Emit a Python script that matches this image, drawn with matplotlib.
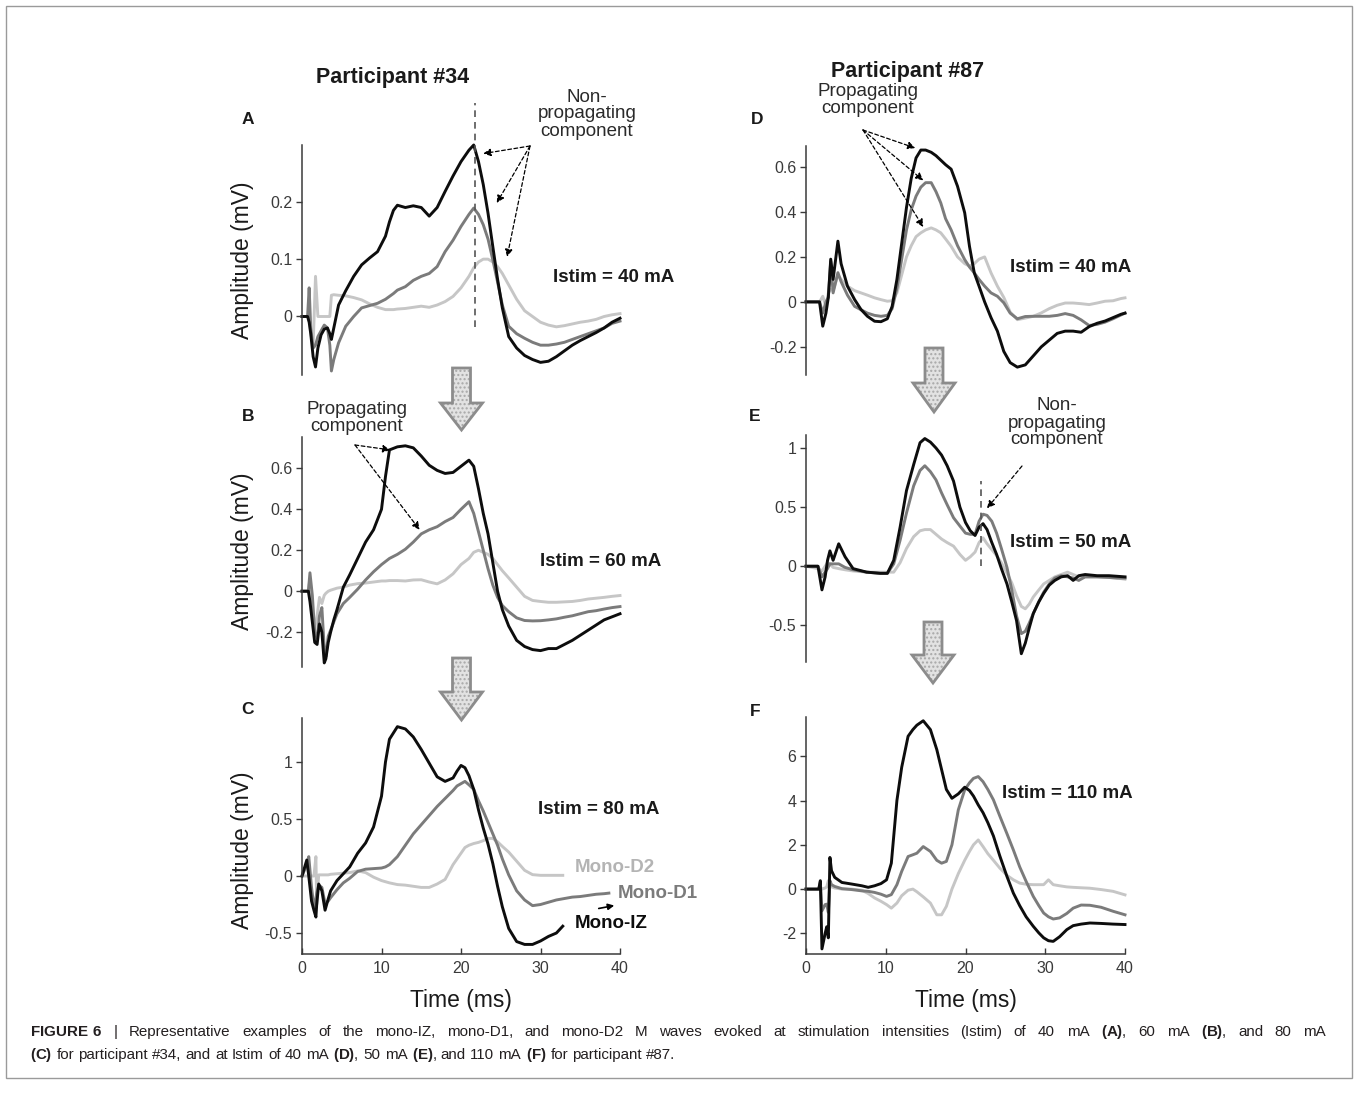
import numpy as np
import matplotlib
matplotlib.use('Agg')
import matplotlib.pyplot as plt
from matplotlib.patches import Polygon, Rectangle

plt.rcParams['font.family'] = ['Liberation Sans', 'DejaVu Sans']
plt.rcParams['mathtext.fontset'] = 'custom'
plt.rcParams['mathtext.rm'] = 'Liberation Sans'
plt.rcParams['mathtext.bf'] = 'Liberation Sans:bold'

nan = np.nan

# ---------------- data: time (ms) and amplitude (mV) ----------------
# Participant #34, Istim = 40 mA (A)
t_a = [0, 0.7, 0.9, 1.1, 1.4, 1.7, 2.0, 2.4, 2.8, 3.2, 3.5, 3.7, 4.0, 4.6, 5.5, 6.5, 7.5, 8.5, 9.5, 10.5,
       11, 11.5, 12, 13, 14, 15, 16, 17, 18, 19, 20, 21, 21.6, 22.2, 22.8, 23.4, 24, 24.6, 25.2, 26,
       27, 28, 29, 30, 31, 32, 33, 34, 35, 36, 37, 38, 39, 40]
a_iz = [0, 0, -0.01, -0.03, -0.07, -0.088, -0.055, -0.032, -0.022, -0.02,
        -0.03, -0.04, -0.02, 0.02, 0.045, 0.07, 0.09, 0.102, 0.113, 0.14,
        0.165, 0.185, 0.194, 0.19, 0.193, 0.19, 0.175, 0.19, 0.218, 0.245,
        0.27, 0.29, 0.299, 0.27, 0.23, 0.18, 0.122, 0.065, 0.015, -0.035,
        -0.055, -0.068, -0.075, -0.08, -0.078, -0.07, -0.06, -0.05, -0.042, -0.035,
        -0.028, -0.02, -0.01, -0.003]
a_d1 = [0, 0, 0.05, -0.02, -0.055, -0.05, -0.035, -0.025, -0.015, -0.02,
        -0.05, -0.095, -0.075, -0.046, -0.017, 0.0, 0.015, 0.019, 0.023, 0.03,
        0.035, 0.04, 0.046, 0.052, 0.063, 0.07, 0.075, 0.087, 0.113, 0.133,
        0.157, 0.178, 0.189, 0.178, 0.16, 0.135, 0.099, 0.06, 0.02, -0.017,
        -0.03, -0.038, -0.045, -0.05, -0.05, -0.048, -0.045, -0.04, -0.035, -0.03,
        -0.025, -0.02, -0.012, -0.008]
a_d2 = [0, 0, 0.0, -0.03, -0.05, 0.07, 0.0, 0.0, 0.0, 0.0,
        0.0, 0.037, 0.038, 0.037, 0.036, 0.033, 0.029, 0.022, 0.016, 0.012,
        0.012, 0.012, 0.013, 0.014, 0.016, 0.018, 0.016, 0.02, 0.026, 0.035,
        0.05, 0.07, 0.085, 0.095, 0.1, 0.1, 0.095, 0.087, 0.075, 0.055,
        0.03, 0.01, 0.0, -0.01, -0.015, -0.018, -0.016, -0.013, -0.01, -0.008,
        -0.005, 0.0, 0.003, 0.005]

# Participant #34, Istim = 60 mA (B)
t_b = [0, 0.8, 1.0, 1.3, 1.6, 1.9, 2.2, 2.5, 2.8, 3.0, 3.3, 3.6, 4.0, 4.4, 5.2, 6.0, 7.0, 8.0, 9.0, 10.0,
       10.5, 11.0, 12.0, 13.0, 14.0, 15.0, 16.0, 17.0, 18.0, 19.0, 20.0, 21.0, 21.6, 22.2, 22.8, 23.4,
       24.0, 24.6, 25.2, 26.0, 27.0, 28.0, 29.0, 30.0, 31.0, 32.0, 33.0, 34.0, 35.0, 36.0, 37.0, 38.0,
       39.0, 40.0]
b_iz = [0, 0, -0.05, -0.15, -0.25, -0.26, -0.16, -0.2, -0.35, -0.33,
        -0.25, -0.2, -0.14, -0.09, 0.02, 0.08, 0.16, 0.24, 0.30, 0.40,
        0.56, 0.69, 0.705, 0.71, 0.70, 0.66, 0.615, 0.59, 0.575, 0.58,
        0.61, 0.64, 0.61, 0.50, 0.38, 0.28, 0.14, 0.0, -0.09, -0.17,
        -0.24, -0.27, -0.285, -0.29, -0.28, -0.28, -0.26, -0.24, -0.215, -0.19,
        -0.165, -0.14, -0.125, -0.11]
b_d1 = [0, 0, 0.09, -0.02, -0.2, -0.23, -0.12, -0.08, -0.28, -0.32,
        -0.22, -0.19, -0.15, -0.11, -0.06, -0.03, 0.01, 0.055, 0.095, 0.13,
        0.145, 0.16, 0.18, 0.205, 0.24, 0.28, 0.30, 0.315, 0.34, 0.36,
        0.40, 0.437, 0.38, 0.29, 0.20, 0.11, 0.03, -0.03, -0.07, -0.10,
        -0.13, -0.143, -0.145, -0.144, -0.14, -0.135, -0.127, -0.12, -0.11, -0.10,
        -0.095, -0.087, -0.08, -0.075]
b_d2 = [0, 0, 0.06, -0.10, -0.18, -0.12, -0.03, -0.06, -0.02, -0.01,
        0.0, 0.005, 0.01, 0.015, 0.02, 0.03, 0.037, 0.04, 0.045, 0.05,
        0.05, 0.052, 0.052, 0.05, 0.055, 0.056, 0.045, 0.036, 0.055, 0.085,
        0.13, 0.16, 0.19, 0.20, 0.19, 0.18, 0.16, 0.13, 0.10, 0.065,
        0.02, -0.025, -0.045, -0.05, -0.054, -0.054, -0.052, -0.05, -0.045, -0.038,
        -0.034, -0.03, -0.025, -0.021]

# Participant #34, Istim = 80 mA (C)
t_c = [0, 0.6, 0.85, 1.2, 1.5, 1.75, 1.85, 2.1, 2.5, 2.9, 3.3, 3.6, 4.4, 5.2, 6.0, 7.0, 8.0, 9.0, 10.0,
       10.5, 11.0, 12.0, 13.0, 14.0, 15.0, 16.0, 17.0, 18.0, 19.0, 19.5, 20.0, 20.5, 21.0, 21.6, 22.2,
       22.8, 23.4, 24.0, 24.6, 25.2, 26.0, 27.0, 28.0, 29.0, 30.0, 31.0, 32.0, 32.8, 34.0, 35.0, 36.0,
       37.0, 38.0, 38.6]
c_iz = [0, 0.14, 0.0, -0.22, -0.30, -0.36, -0.25, -0.07, -0.13, -0.30,
        -0.20, -0.13, -0.04, 0.02, 0.08, 0.20, 0.29, 0.43, 0.70, 1.0,
        1.2, 1.31, 1.29, 1.22, 1.11, 0.99, 0.87, 0.83, 0.86, 0.92,
        0.97, 0.95, 0.88, 0.76, 0.58, 0.42, 0.28, 0.11, -0.09, -0.27,
        -0.46, -0.575, -0.60, -0.60, -0.57, -0.53, -0.50, -0.44, nan, nan,
        nan, nan, nan, nan]
c_d1 = [0, 0.10, 0.17, -0.10, -0.27, -0.20, -0.15, -0.08, -0.10, -0.24,
        -0.22, -0.19, -0.12, -0.06, -0.02, 0.04, 0.06, 0.065, 0.07, 0.08,
        0.10, 0.17, 0.27, 0.37, 0.45, 0.53, 0.61, 0.68, 0.75, 0.79,
        0.81, 0.83, 0.80, 0.76, 0.66, 0.57, 0.47, 0.37, 0.27, 0.15,
        0.01, -0.13, -0.21, -0.26, -0.25, -0.23, -0.21, -0.20, -0.185, -0.18,
        -0.17, -0.16, -0.155, -0.15]
c_d2 = [0, 0.0, 0.0, 0.0, 0.0, 0.17, -0.25, 0.01, 0.01, 0.01,
        0.01, 0.015, 0.02, 0.025, 0.03, 0.045, 0.03, -0.01, -0.04, -0.05,
        -0.06, -0.075, -0.08, -0.09, -0.10, -0.10, -0.07, -0.03, 0.10, 0.15,
        0.20, 0.25, 0.27, 0.285, 0.295, 0.31, 0.33, 0.33, 0.30, 0.26,
        0.21, 0.13, 0.05, 0.012, 0.006, 0.006, 0.006, 0.006, nan, nan,
        nan, nan, nan, nan]

# Participant #87, Istim = 40 mA (D)
t_d = [0, 1.7, 2.1, 2.5, 2.8, 3.1, 3.4, 4.0, 4.4, 5.2, 6.1, 6.9, 7.7, 8.6, 9.4, 10.2, 10.8, 11.4, 12.0,
       12.6, 13.2, 13.8, 14.4, 15.0, 15.7, 16.3, 16.9, 17.5, 18.2, 19.0, 19.9, 20.5, 21.1, 21.7, 22.4,
       23.2, 24.0, 24.8, 25.6, 26.5, 27.5, 28.5, 29.5, 30.5, 31.5, 32.5, 33.5, 34.5, 35.5, 36.5, 37.5,
       38.5, 39.5, 40]
d_iz = [0, 0, -0.108, -0.05, 0.02, 0.19, 0.10, 0.27, 0.17, 0.07,
        0.01, -0.034, -0.064, -0.086, -0.088, -0.075, -0.02, 0.10, 0.26, 0.42,
        0.55, 0.64, 0.675, 0.675, 0.665, 0.65, 0.63, 0.61, 0.59, 0.514,
        0.396, 0.247, 0.129, 0.07, 0.0, -0.07, -0.13, -0.22, -0.27, -0.29,
        -0.28, -0.24, -0.20, -0.17, -0.14, -0.13, -0.13, -0.135, -0.11, -0.095,
        -0.085, -0.07, -0.055, -0.05]
d_d1 = [0, 0, -0.05, 0.0, 0.02, 0.18, 0.04, 0.13, 0.09, 0.03,
        -0.02, -0.035, -0.05, -0.06, -0.064, -0.06, -0.03, 0.06, 0.19, 0.32,
        0.41, 0.47, 0.51, 0.53, 0.53, 0.49, 0.44, 0.37, 0.32, 0.25,
        0.188, 0.155, 0.129, 0.10, 0.07, 0.04, 0.025, -0.004, -0.05, -0.075,
        -0.065, -0.064, -0.064, -0.064, -0.06, -0.052, -0.06, -0.08, -0.105, -0.10,
        -0.09, -0.075, -0.058, -0.05]
d_d2 = [0, 0.0, 0.025, -0.02, 0.04, 0.055, 0.05, 0.12, 0.10, 0.07,
        0.05, 0.04, 0.03, 0.018, 0.01, 0.003, 0.005, 0.04, 0.12, 0.20,
        0.25, 0.29, 0.307, 0.32, 0.329, 0.32, 0.307, 0.28, 0.247, 0.20,
        0.17, 0.159, 0.17, 0.19, 0.20, 0.129, 0.07, 0.02, -0.045, -0.079,
        -0.072, -0.064, -0.049, -0.03, -0.015, -0.005, -0.005, -0.008, -0.012, -0.005,
        0.003, 0.005, 0.015, 0.018]

# Participant #87, Istim = 50 mA (E)
t_e = [0, 1.5, 2.0, 2.4, 2.7, 3.0, 3.4, 4.1, 4.9, 5.9, 7.6, 9.3, 10.2, 11.0, 11.8, 12.6, 13.5, 14.3,
       14.9, 15.6, 16.3, 17.0, 17.7, 18.5, 19.3, 20.0, 20.6, 21.2, 21.7, 22.2, 22.7, 23.3, 23.9, 24.5,
       25.2, 25.8, 26.4, 27.0, 27.5, 28.0, 28.5, 29.2, 29.8, 30.5, 31.2, 32.0, 32.8, 33.5, 34.2, 35.0,
       36.5, 38.0, 39.0, 40]
e_iz = [0, 0, -0.20, -0.09, 0.05, 0.13, 0.05, 0.19, 0.08, -0.02,
        -0.05, -0.06, -0.06, 0.05, 0.33, 0.64, 0.86, 1.045, 1.08, 1.05,
        1.0, 0.94, 0.85, 0.72, 0.50, 0.37, 0.30, 0.26, 0.33, 0.36,
        0.31, 0.20, 0.10, -0.02, -0.15, -0.30, -0.46, -0.74, -0.65, -0.52,
        -0.40, -0.30, -0.23, -0.16, -0.12, -0.09, -0.08, -0.12, -0.08, -0.07,
        -0.08, -0.08, -0.085, -0.09]
e_d1 = [0, 0, -0.09, -0.05, -0.02, 0.02, 0.02, 0.02, -0.01, -0.03,
        -0.05, -0.06, -0.06, 0.02, 0.22, 0.45, 0.68, 0.81, 0.85, 0.80,
        0.73, 0.62, 0.52, 0.41, 0.34, 0.28, 0.27, 0.27, 0.38, 0.44,
        0.43, 0.38, 0.28, 0.15, -0.01, -0.20, -0.42, -0.57, -0.55, -0.48,
        -0.40, -0.30, -0.22, -0.15, -0.10, -0.08, -0.09, -0.10, -0.12, -0.09,
        -0.09, -0.095, -0.10, -0.10]
e_d2 = [0, -0.02, -0.04, 0.0, 0.03, 0.02, -0.01, -0.02, -0.03, -0.04,
        -0.05, -0.05, -0.05, -0.05, 0.03, 0.15, 0.25, 0.30, 0.31, 0.31,
        0.27, 0.23, 0.20, 0.17, 0.10, 0.05, 0.08, 0.12, 0.20, 0.24,
        0.19, 0.14, 0.09, 0.03, -0.06, -0.14, -0.25, -0.34, -0.36, -0.32,
        -0.26, -0.20, -0.15, -0.12, -0.09, -0.07, -0.05, -0.07, -0.09, -0.09,
        -0.09, -0.095, -0.10, -0.11]

# Participant #87, Istim = 110 mA (F)
t_f = [0, 1.6, 1.8, 2.0, 2.4, 2.6, 2.8, 3.0, 3.2, 3.6, 4.5, 5.7, 7.0, 7.8, 8.6, 9.4, 10.1, 10.7, 11.4,
       12.0, 12.8, 13.4, 13.9, 14.7, 15.6, 16.4, 17.0, 17.6, 18.3, 19.1, 19.9, 20.5, 21.0, 21.6, 22.2,
       22.8, 23.5, 24.3, 25.2, 26.0, 26.8, 27.6, 28.5, 29.2, 29.8, 30.4, 31.0, 31.8, 32.7, 33.5, 34.5,
       35.6, 37.0, 38.5, 40]
f_iz = [0, 0.0, 0.38, -2.7, -2.0, -1.7, -2.2, 1.43, 0.83, 0.53,
        0.30, 0.23, 0.15, 0.08, 0.15, 0.25, 0.42, 1.17, 4.0, 5.5,
        6.9, 7.2, 7.4, 7.6, 7.2, 6.3, 5.4, 4.5, 4.1, 4.3,
        4.6, 4.45, 4.2, 3.8, 3.45, 3.0, 2.4, 1.5, 0.57, -0.18,
        -0.75, -1.25, -1.68, -1.98, -2.2, -2.33, -2.36, -2.15, -1.83, -1.65,
        -1.58, -1.53, -1.55, -1.58, -1.6]
f_d1 = [0, 0.0, 0.3, -0.98, -0.7, -0.68, -1.05, 0.38, 0.2, 0.12,
        0.02, -0.02, -0.08, -0.10, -0.15, -0.23, -0.33, -0.25, 0.2, 0.8,
        1.47, 1.55, 1.62, 1.92, 1.7, 1.3, 1.17, 1.25, 2.0, 3.58,
        4.48, 4.8, 5.0, 5.08, 4.85, 4.5, 4.03, 3.3, 2.5, 1.77,
        1.0, 0.35, -0.33, -0.75, -1.08, -1.25, -1.35, -1.3, -1.1, -0.86,
        -0.72, -0.73, -0.82, -1.0, -1.16]
f_d2 = [0, 0.0, 0.1, 0.0, 0.05, 0.1, 0.38, 0.2, 0.1, 0.05,
        0.0, 0.0, -0.05, -0.2, -0.4, -0.55, -0.7, -0.86, -0.63, -0.3,
        -0.05, 0.0, -0.12, -0.35, -0.63, -1.16, -1.16, -0.78, 0.0, 0.7,
        1.3, 1.7, 2.0, 2.22, 1.92, 1.6, 1.3, 0.95, 0.62, 0.42,
        0.27, 0.22, 0.2, 0.2, 0.2, 0.42, 0.2, 0.15, 0.1, 0.08,
        0.06, 0.04, -0.02, -0.1, -0.26]

x_ticks = [0, 10, 20, 30, 40]
istim = ['Istim = 40 mA', 'Istim = 60 mA', 'Istim = 80 mA',
         'Istim = 40 mA', 'Istim = 50 mA', 'Istim = 110 mA']
series_names = ['Mono-IZ', 'Mono-D1', 'Mono-D2']

# ---------------- styling ----------------
W, H = 1358, 1099
C_IZ, C_D1, C_D2 = '#0d0d0d', '#7b7b7b', '#c6c6c6'
LW = 2.1
TXT = '#1a1a1a'
TICK = '#3a3a3a'

fig = plt.figure(figsize=(W / 100, H / 100), dpi=100)


def fx(px):
    return px / W


def fy(py):
    return 1 - py / H


def panel(x0, x1, ytop, ybot):
    return fig.add_axes([fx(x0), fy(ybot), (x1 - x0) / W, (ybot - ytop) / H])


def style(ax, ylim, yticks, ylabels, xaxis):
    ax.set_xlim(0, 40)
    ax.set_ylim(*ylim)
    ax.patch.set_alpha(0)
    ax.spines['top'].set_visible(False)
    ax.spines['right'].set_visible(False)
    ax.spines['left'].set_color(TICK)
    ax.spines['left'].set_linewidth(1.1)
    ax.set_yticks(yticks)
    ax.set_yticklabels(ylabels)
    ax.tick_params(axis='y', direction='out', length=4, width=1, colors=TICK,
                   labelsize=11.5, pad=3)
    if xaxis:
        ax.spines['bottom'].set_color(TICK)
        ax.spines['bottom'].set_linewidth(1.1)
        ax.set_xticks(x_ticks)
        ax.set_xticklabels([str(v) for v in x_ticks])
        ax.tick_params(axis='x', direction='in', length=4, width=1, colors=TICK,
                       labelsize=11.5, pad=5)
    else:
        ax.spines['bottom'].set_visible(False)
        ax.set_xticks([])


def draw(ax, t, iz, d1, d2):
    ax.plot(t, d2, color=C_D2, lw=LW, clip_on=False, solid_joinstyle='round')
    ax.plot(t, d1, color=C_D1, lw=LW, clip_on=False, solid_joinstyle='round')
    ax.plot(t, iz, color=C_IZ, lw=LW, clip_on=False, solid_joinstyle='round')


def dashed_arrow(ax, xy, px, py):
    ax.annotate('', xy=xy, xycoords='data', xytext=(fx(px), fy(py)),
                textcoords='figure fraction', annotation_clip=False,
                arrowprops=dict(arrowstyle='-|>', color='black', lw=0.9,
                                linestyle=(0, (3, 2)), mutation_scale=11,
                                shrinkA=0, shrinkB=0))


def big_arrow(cx, y0, y1, y2):
    pts = [(cx - 9, y0), (cx + 9, y0), (cx + 9, y1), (cx + 21, y1), (cx, y2),
           (cx - 21, y1), (cx - 9, y1)]
    pts = [(fx(x), fy(y)) for x, y in pts]
    fig.patches.append(Polygon(pts, closed=True, transform=fig.transFigure,
                               facecolor='#e2e2e2', edgecolor='#a8a8a8',
                               hatch='....', lw=0))
    fig.patches.append(Polygon(pts, closed=True, transform=fig.transFigure,
                               fill=False, edgecolor='#8c8c8c', lw=2,
                               joinstyle='miter'))


def text_line(x0, y, words, size, x1=None):
    # place words left to right; when x1 is given, spread them to fill the line
    r = fig.canvas.get_renderer()
    items = [fig.text(0, fy(y), w, fontsize=size, color='#231f20', ha='left', va='center')
             for w in words]
    widths = [it.get_window_extent(r).width for it in items]
    probe1 = fig.text(0, 0, 'a a', fontsize=size)
    probe2 = fig.text(0, 0, 'aa', fontsize=size)
    space = probe1.get_window_extent(r).width - probe2.get_window_extent(r).width
    probe1.remove()
    probe2.remove()
    gap = space
    if x1 is not None and len(words) > 1:
        gap = (x1 - x0 - sum(widths)) / (len(words) - 1)
    x = x0
    for it, w in zip(items, widths):
        it.set_x(fx(x))
        x += w + gap


ax_a = panel(302, 620, 145, 375)
ax_b = panel(302, 620, 437, 667)
ax_c = panel(302, 620, 718, 954)
ax_d = panel(806, 1125, 146, 375)
ax_e = panel(806, 1125, 435, 662)
ax_f = panel(806, 1125, 717, 954)

style(ax_a, (-0.102, 0.299), [0, 0.1, 0.2], ['0', '0.1', '0.2'], False)
style(ax_b, (-0.37, 0.753), [-0.2, 0, 0.2, 0.4, 0.6], ['-0.2', '0', '0.2', '0.4', '0.6'], False)
style(ax_c, (-0.684, 1.386), [-0.5, 0, 0.5, 1], ['-0.5', '0', '0.5', '1'], True)
style(ax_d, (-0.325, 0.693), [-0.2, 0, 0.2, 0.4, 0.6], ['-0.2', '0', '0.2', '0.4', '0.6'], False)
style(ax_e, (-0.81, 1.11), [-0.5, 0, 0.5, 1], ['-0.5', '0', '0.5', '1'], False)
style(ax_f, (-2.93, 7.77), [-2, 0, 2, 4, 6], ['-2', '0', '2', '4', '6'], True)

draw(ax_a, t_a, a_iz, a_d1, a_d2)
draw(ax_b, t_b, b_iz, b_d1, b_d2)
draw(ax_c, t_c, c_iz, c_d1, c_d2)
draw(ax_d, t_d, d_iz, d_d1, d_d2)
draw(ax_e, t_e, e_iz, e_d1, e_d2)
draw(ax_f, t_f, f_iz, f_d1, f_d2)

# vertical dashed markers of the non-propagating component
ax_a.plot([21.8, 21.8], [-0.018, 0.372], color='#555555', lw=1.2,
          linestyle=(0, (4, 3)), clip_on=False)
ax_e.plot([22.0, 22.0], [0.0, 0.72], color='#555555', lw=1.2,
          linestyle=(0, (4, 3)), clip_on=False)

# annotations
note_kw = dict(fontsize=13.5, color='#2a2a2a', ha='center', va='center', linespacing=1.0)
fig.text(fx(587), fy(114), 'Non-\npropagating\ncomponent', **note_kw)
for xy in [(22.8, 0.284), (24.5, 0.198), (25.8, 0.104)]:
    dashed_arrow(ax_a, xy, 530, 146)

fig.text(fx(357), fy(418), 'Propagating\ncomponent', **note_kw)
for xy in [(11.1, 0.69), (14.8, 0.30)]:
    dashed_arrow(ax_b, xy, 355, 445)

fig.text(fx(868), fy(100), 'Propagating\ncomponent', **note_kw)
for xy in [(13.7, 0.684), (14.7, 0.54), (14.7, 0.333)]:
    dashed_arrow(ax_d, xy, 863, 130)

fig.text(fx(1057), fy(423), 'Non-\npropagating\ncomponent', **note_kw)
dashed_arrow(ax_e, (22.7, 0.49), 1022, 466)

# Istim labels
istim_pos = [(553, 278), (540, 562), (538, 810), (1010, 268), (1010, 543), (1002, 793)]
for s, (px, py) in zip(istim, istim_pos):
    fig.text(fx(px), fy(py), s, fontsize=13.5, fontweight='bold', color=TXT,
             ha='left', va='center')

# series labels (panel C)
for name, col, (px, py) in zip(series_names, [C_IZ, C_D1, '#b4b4b4'],
                               [(575, 923), (618, 893), (575, 867)]):
    fig.text(fx(px), fy(py), name, fontsize=13.5, fontweight='bold', color=col,
             ha='left', va='center')
fig.patches.append(matplotlib.patches.FancyArrowPatch(
    (fx(596), fy(909)), (fx(617), fy(905)), transform=fig.transFigure,
    arrowstyle='-|>', mutation_scale=9, lw=1.2, color='black'))

# panel letters
for s, (px, py) in zip('ABCDEF', [(248, 120), (248, 417), (248, 710),
                                  (757, 120), (755, 417), (755, 712)]):
    fig.text(fx(px), fy(py), s, fontsize=12.5, fontweight='bold', color=TXT,
             ha='center', va='center')

# titles
fig.text(fx(393), fy(78), 'Participant #34', fontsize=15.5, fontweight='bold',
         color=TXT, ha='center', va='center')
fig.text(fx(908), fy(72), 'Participant #87', fontsize=15.5, fontweight='bold',
         color=TXT, ha='center', va='center')

# axis labels
for py in [260, 551, 850]:
    fig.text(fx(243), fy(py), 'Amplitude (mV)', fontsize=16.5, rotation=90,
             color=TXT, ha='center', va='center')
for px in [461, 966]:
    fig.text(fx(px), fy(1000), 'Time (ms)', fontsize=16.5, color=TXT,
             ha='center', va='center')

# big grey arrows between stimulation levels
big_arrow(461.5, 368, 403, 430)
big_arrow(461.5, 658, 692, 720)
big_arrow(934, 348, 383, 412)
big_arrow(933, 622, 655, 683)

# caption (first line justified, as in the journal layout)
cap1_words = [r'$\mathbf{FIGURE\ 6}$', '|', 'Representative', 'examples', 'of', 'the',
              'mono-IZ,', 'mono-D1,', 'and', 'mono-D2', 'M', 'waves', 'evoked', 'at',
              'stimulation', 'intensities', '(Istim)', 'of', '40', 'mA', r'$\mathbf{(A)}$,',
              '60', 'mA', r'$\mathbf{(B)}$,', 'and', '80', 'mA']
cap2_words = [r'$\mathbf{(C)}$', 'for', 'participant', '#34,', 'and', 'at', 'Istim', 'of',
              '40', 'mA', r'$\mathbf{(D)}$,', '50', 'mA', r'$\mathbf{(E)}$,', 'and', '110',
              'mA', r'$\mathbf{(F)}$', 'for', 'participant', '#87.']
text_line(30, 1032, cap1_words, 10.9, x1=1326)
text_line(30, 1055, cap2_words, 10.9)

# frame around the figure
fig.patches.append(Rectangle((fx(6), fy(1078)), (1352 - 6) / W, (1078 - 6) / H,
                             transform=fig.transFigure, fill=False,
                             edgecolor='#9a9a9a', lw=1))

fig.savefig('out.png', dpi=100)
